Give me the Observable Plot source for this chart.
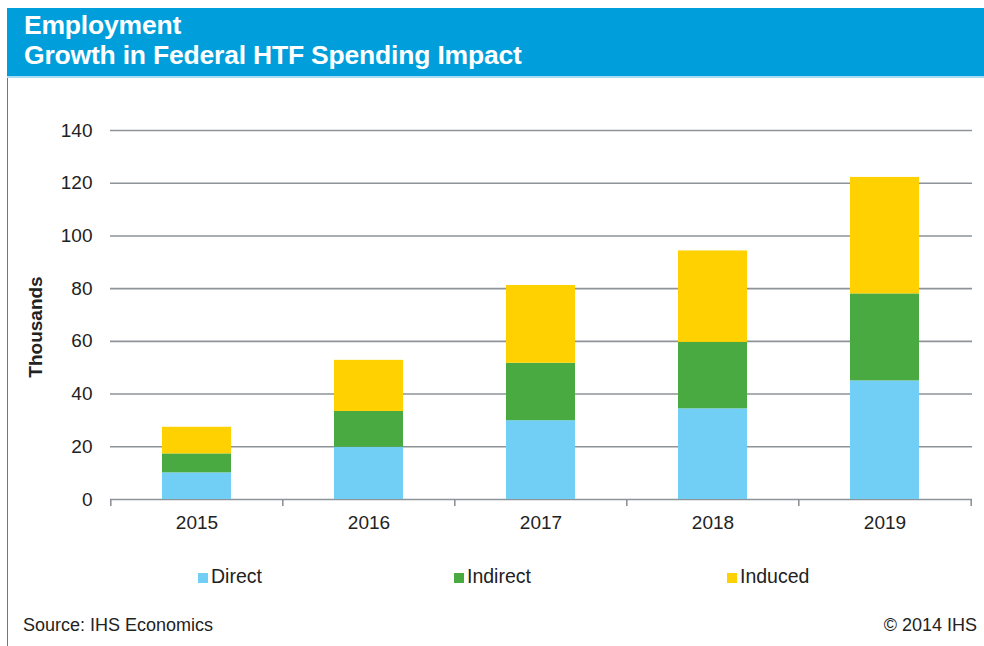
<!DOCTYPE html>
<html>
<head>
<meta charset="utf-8">
<script src="https://cdn.jsdelivr.net/npm/d3@7"></script>
<script src="https://cdn.jsdelivr.net/npm/@observablehq/plot@0.6"></script>
<style>
  html, body { margin: 0; padding: 0; background: #fff; }
  body { width: 984px; height: 646px; position: relative; overflow: hidden; font-family: "Liberation Sans", Arial, sans-serif; color: #222; }
  #frame { position: absolute; left: 7px; top: 8px; width: 990px; height: 700px; border-left: 1.5px solid #009FDB; box-sizing: border-box; }
  #header { position: absolute; left: 7px; top: 8px; right: 0; height: 68px; background: #009FDB; border-bottom: 2px solid #A8DDF3; }
  #header div { position: absolute; left: 17px; color: #fff; font-weight: bold; font-size: 26.5px; white-space: nowrap; letter-spacing: -0.2px; }
  #chart { position: absolute; left: 0; top: 90px; }
  .leg { position: absolute; top: 565px; font-size: 19.5px; display: flex; align-items: center; white-space: nowrap; }
  .sw { width: 10px; height: 10px; margin-right: 3px; margin-top: 3px; }
  .foot { position: absolute; top: 615px; font-size: 18px; white-space: nowrap; }
</style>
</head>
<body>
<div id="frame"></div>
<div id="header"><div style="top:2px">Employment</div><div style="top:32px">Growth in Federal HTF Spending Impact</div></div>
<div id="chart"></div>
<div id="legend"></div>
<div class="foot" style="left:23px">Source: IHS Economics</div>
<div class="foot" style="right:7px">© 2014 IHS</div>
<script>
const years = ["2015", "2016", "2017", "2018", "2019"];
const seriesNames = ["Direct", "Indirect", "Induced"];
const seriesColors = ["#71CFF5", "#4AAA42", "#FFD100"];
const direct = [10.1, 19.8, 29.9, 34.4, 45.0];
const indirect = [7.2, 13.6, 21.8, 25.2, 33.0];
const induced = [10.1, 19.4, 29.5, 34.7, 44.2];
const yTicks = [0, 20, 40, 60, 80, 100, 120, 140];
const yLabel = "Thousands";

const seriesValues = [direct, indirect, induced];
const data = [];
seriesNames.forEach((s, si) => years.forEach((yr, i) => data.push({year: yr, series: s, value: seriesValues[si][i]})));

const W = 984, H = 460, mL = 110, mR = 12, mT = 40, mB = 51;
const step = (W - mL - mR) / years.length;
const frameH = H - mT - mB;
const textColor = "#222";

const plot = Plot.plot({
  width: W, height: H,
  marginLeft: mL, marginRight: mR, marginTop: mT, marginBottom: mB,
  style: {fontFamily: "'Liberation Sans', Arial, sans-serif", color: textColor, background: "transparent"},
  x: {domain: years, paddingInner: 0.596, paddingOuter: 0.298, label: null},
  y: {domain: [0, 140], label: null},
  color: {domain: seriesNames, range: seriesColors},
  marks: [
    Plot.ruleY(yTicks, {y: d => d, stroke: "#8D9399", strokeWidth: 1.6}),
    Plot.barY(data, {x: "year", y: "value", fill: "series", order: seriesNames}),
    Plot.ruleX(years, {x: d => d, dx: -step / 2, stroke: "#8D9399", strokeWidth: 1.6, insetTop: frameH, insetBottom: -7}),
    Plot.ruleX([years[years.length - 1]], {x: d => d, dx: step / 2, stroke: "#8D9399", strokeWidth: 1.6, insetTop: frameH, insetBottom: -7}),
    Plot.axisY({ticks: yTicks, tickSize: 0, tickPadding: 18, fontSize: 19, label: null}),
    Plot.axisX({tickSize: 0, tickPadding: 16, fontSize: 19, label: null}),
    Plot.text([yLabel], {text: d => d, frameAnchor: "left", textAnchor: "middle", dx: -75, dy: 12, rotate: -90, fontWeight: "bold", fontSize: 19, fill: textColor})
  ]
});
document.getElementById("chart").appendChild(plot);

const legendX = [198, 454, 727];
const legend = document.getElementById("legend");
seriesNames.forEach((s, i) => {
  const el = document.createElement("div");
  el.className = "leg";
  el.style.left = legendX[i] + "px";
  el.innerHTML = `<span class="sw" style="background:${seriesColors[i]}"></span><span>${s}</span>`;
  legend.appendChild(el);
});
</script>
</body>
</html>
